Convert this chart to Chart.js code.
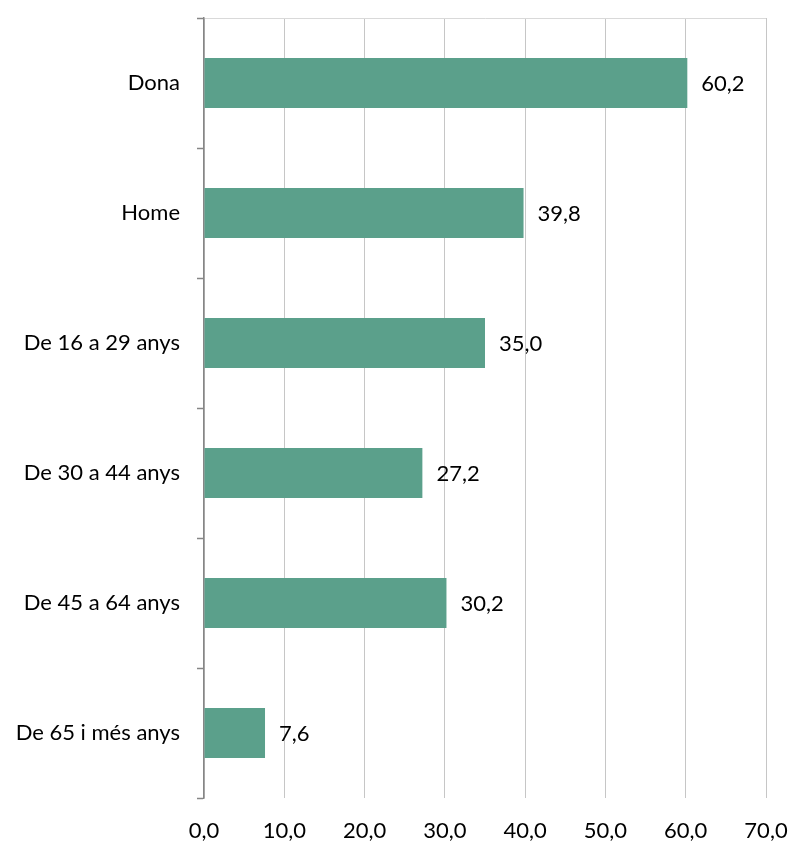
<!DOCTYPE html>
<html lang="ca">
<head>
  <meta charset="UTF-8">
  <title>Percentatge per sexe i edat</title>
  <script src="https://cdn.jsdelivr.net/npm/chart.js@4"></script>
  <style>
    body { margin: 0; background: #fff; }
    .wrap { width: 790px; height: 841px; position: relative; }
  </style>
</head>
<body>
  <div class="wrap">
    <canvas id="chart"></canvas>
  </div>

  <script>
    // data
    const categories = ['Dona', 'Home', 'De 16 a 29 anys', 'De 30 a 44 anys', 'De 45 a 64 anys', 'De 65 i més anys'];
    const values = [60.2, 39.8, 35.0, 27.2, 30.2, 7.6];
    const xTicks = [0, 10, 20, 30, 40, 50, 60, 70];

    const fmt = v => v.toFixed(1).replace('.', ',');
    const FONT = 'Lato, "Open Sans", sans-serif';
    const SIZE = 22;

    // value labels to the right of each bar
    const valueLabels = {
      id: 'valueLabels',
      afterDatasetsDraw(chart) {
        const ctx = chart.ctx;
        const meta = chart.getDatasetMeta(0);
        ctx.save();
        ctx.font = SIZE + 'px ' + FONT;
        ctx.fillStyle = '#000';
        ctx.textAlign = 'left';
        ctx.textBaseline = 'middle';
        meta.data.forEach((bar, i) => {
          ctx.fillText(fmt(values[i]), bar.x + 14, bar.y + 1);
        });
        ctx.restore();
      }
    };

    new Chart(document.getElementById('chart'), {
      type: 'bar',
      data: {
        labels: categories,
        datasets: [{
          data: values,
          backgroundColor: '#5ba08b',
          borderWidth: 0,
          categoryPercentage: 1,
          barPercentage: 0.385
        }]
      },
      options: {
        indexAxis: 'y',
        responsive: true,
        maintainAspectRatio: false,
        animation: false,
        layout: { padding: { top: 18, right: 24, left: 0, bottom: 0 } },
        plugins: {
          legend: { display: false },
          tooltip: { enabled: false }
        },
        scales: {
          x: {
            min: 0,
            max: 70,
            afterBuildTicks: axis => { axis.ticks = xTicks.map(v => ({ value: v })); },
            afterFit: axis => {
              axis.height = 43;
              axis.paddingLeft = 0;
              axis.paddingRight = 0;
            },
            border: { display: false },
            grid: { color: '#c6c6c6', lineWidth: 1, drawTicks: false },
            ticks: {
              padding: 20,
              color: '#000',
              font: { family: FONT, size: SIZE },
              callback: v => fmt(v)
            }
          },
          y: {
            afterFit: axis => {
              axis.width = 204;
              axis.paddingTop = 0;
              axis.paddingBottom = 0;
            },
            border: { color: '#868686', width: 1.5 },
            grid: {
              offset: true,
              color: c => c.index === 0 ? '#d9d9d9' : 'transparent',
              tickColor: '#868686',
              tickLength: 7,
              tickWidth: 1.5
            },
            ticks: {
              padding: 17,
              color: '#000',
              font: { family: FONT, size: SIZE }
            }
          }
        }
      },
      plugins: [valueLabels]
    });
  </script>
</body>
</html>
